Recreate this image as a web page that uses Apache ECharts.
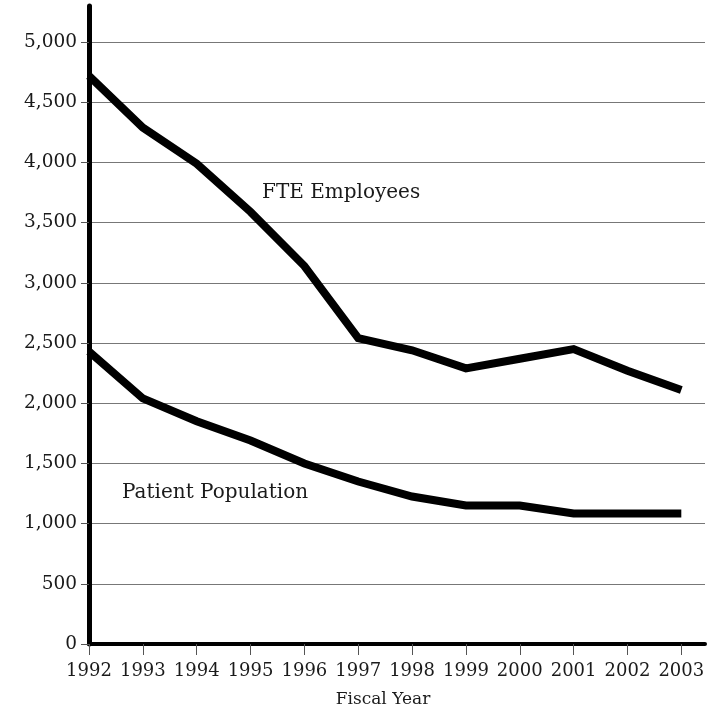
<!DOCTYPE html>
<html>
<head>
<meta charset="utf-8">
<script src="https://cdn.jsdelivr.net/npm/echarts@6/dist/echarts.min.js"></script>
<style>html,body{margin:0;padding:0;background:#fff}#c{width:719px;height:713px}</style>
</head>
<body>
<div id="c"></div>
<script>
var years = [1992,1993,1994,1995,1996,1997,1998,1999,2000,2001,2002,2003];
var fteEmployees = [4720,4290,3990,3590,3140,2540,2440,2290,2370,2450,2270,2110];
var patientPopulation = [2430,2040,1850,1690,1500,1350,1225,1150,1150,1085,1085,1085];
var yTicks = [0,500,1000,1500,2000,2500,3000,3500,4000,4500,5000];
var seriesNames = ['FTE Employees','Patient Population'];
var xAxisTitle = 'Fiscal Year';

function pairs(vals){ return years.map(function(y,i){ return [y, vals[i]]; }); }

var FONT = 'DejaVu Serif';
var chart = echarts.init(document.getElementById('c'), null, {renderer:'canvas'});
chart.setOption({
  animation:false,
  backgroundColor:'#fff',
  grid:{left:89, right:14, top:6, bottom:69, containLabel:false, outerBoundsMode:'none'},
  xAxis:{
    type:'value', min:1992, max:2003.44, interval:1,
    axisLine:{show:true, onZero:false, lineStyle:{color:'#000', width:4}},
    axisTick:{show:true, length:11, customValues:years, lineStyle:{color:'#555', width:1}},
    axisLabel:{customValues:years, margin:18, fontFamily:FONT, fontSize:18, color:'#1a1a1a',
      formatter:function(v){ return String(v); }},
    splitLine:{show:false}
  },
  yAxis:{
    type:'value', min:0, max:5300, interval:500,
    axisLine:{show:true, lineStyle:{color:'#000', width:5}},
    axisTick:{show:true, length:8, customValues:yTicks, lineStyle:{color:'#555', width:1}},
    axisLabel:{customValues:yTicks, margin:12, fontFamily:FONT, fontSize:18.5, color:'#1a1a1a',
      formatter:function(v){ return echarts.format.addCommas(v); }},
    splitLine:{show:true, showMinLine:false, lineStyle:{color:'#777', width:1}}
  },
  series:[
    {name:seriesNames[0], type:'line', data:pairs(fteEmployees), symbol:'none',
      lineStyle:{color:'#000', width:8, cap:'butt', join:'miter'}, z:3},
    {name:seriesNames[1], type:'line', data:pairs(patientPopulation), symbol:'none',
      lineStyle:{color:'#000', width:8, cap:'butt', join:'miter'}, z:3}
  ],
  graphic:[
    {type:'text', left:262, top:183, style:{text:seriesNames[0], font:'20px "DejaVu Serif"', fill:'#1a1a1a'}},
    {type:'text', left:122, top:483, style:{text:seriesNames[1], font:'20px "DejaVu Serif"', fill:'#1a1a1a'}},
    {type:'text', x:383, y:700, style:{text:xAxisTitle, font:'17px "DejaVu Serif"', fill:'#1a1a1a', align:'center', verticalAlign:'middle'}}
  ]
});
</script>
</body>
</html>
